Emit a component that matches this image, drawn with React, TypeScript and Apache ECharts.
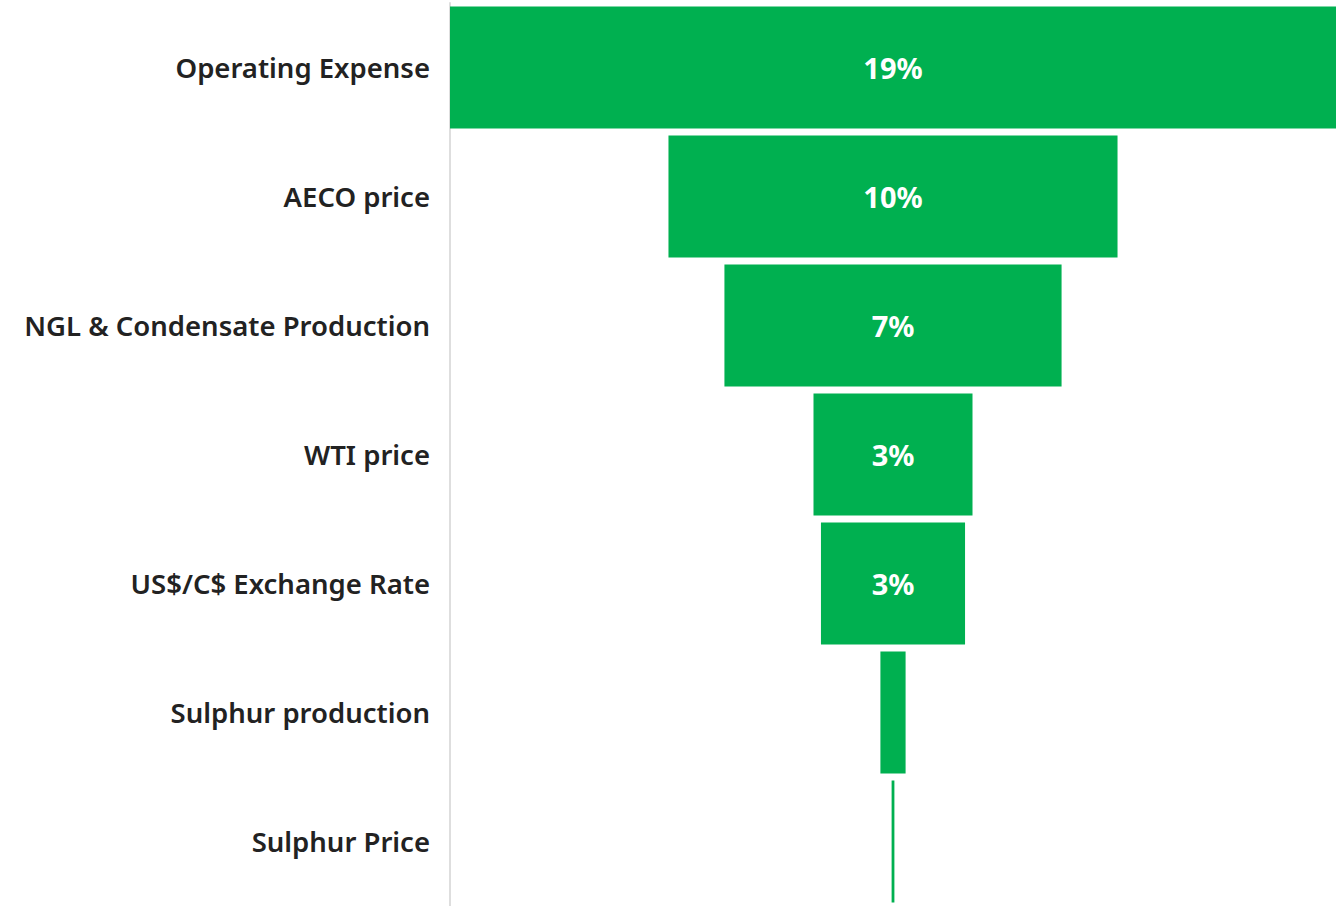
import React, { useEffect, useRef } from "react";
import * as echarts from "echarts";

const categories = [
  "Operating Expense",
  "AECO price",
  "NGL & Condensate Production",
  "WTI price",
  "US$/C$ Exchange Rate",
  "Sulphur production",
  "Sulphur Price",
];
const values = [19, 9.63, 7.23, 3.41, 3.09, 0.54, 0.06];
const axisMax = 19;

export default function App() {
  const ref = useRef<HTMLDivElement>(null);
  useEffect(() => {
    if (!ref.current) return;
    const chart = echarts.init(ref.current, undefined, { renderer: "svg" });
    const offsets = values.map((v) => (axisMax - v) / 2);
    chart.setOption({
      animation: false,
      grid: { left: 450, right: 0, top: 3, bottom: 0, containLabel: false },
      xAxis: { type: "value", min: 0, max: axisMax, show: false },
      yAxis: {
        type: "category",
        data: categories,
        inverse: true,
        axisLine: { show: true, lineStyle: { color: "#dedede", width: 2 } },
        axisTick: { show: false },
        axisLabel: {
          margin: 20,
          color: "#222222",
          fontFamily: "Noto Sans",
          fontWeight: 600,
          fontSize: 27.5,
        },
      },
      series: [
        {
          type: "bar",
          stack: "s",
          data: offsets,
          barWidth: 122,
          itemStyle: { color: "transparent" },
          silent: true,
        },
        {
          type: "bar",
          stack: "s",
          data: values,
          barWidth: 122,
          itemStyle: { color: "#00b050" },
          label: {
            show: true,
            position: "inside",
            color: "#ffffff",
            fontFamily: "Noto Sans",
            fontWeight: 700,
            fontSize: 29,
            formatter: (p: any) => (p.value >= 1 ? Math.round(p.value) + "%" : ""),
          },
        },
      ],
    });
    return () => chart.dispose();
  }, []);
  return (
    <div
      ref={ref}
      style={{ position: "fixed", left: 0, top: 0, width: 1336, height: 906, background: "#fff" }}
    />
  );
}
